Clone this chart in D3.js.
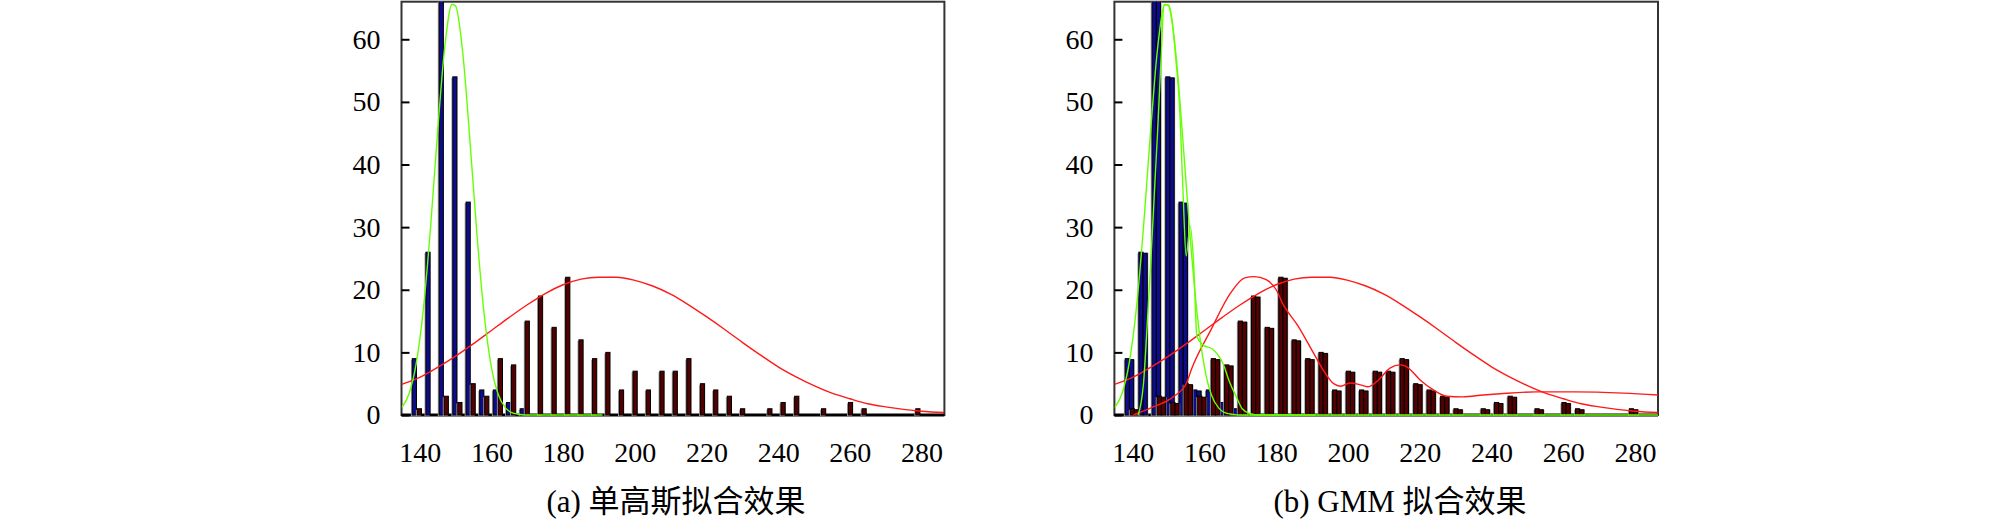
<!DOCTYPE html>
<html>
<head>
<meta charset="utf-8">
<script src="https://d3js.org/d3.v7.min.js"></script>
<style>
  body { margin: 0; background: #fff; }
  svg { display: block; }
  .tick line { stroke: #000; stroke-width: 2; }
  .caption { font-family: "Liberation Serif", "Noto Sans CJK SC", serif; font-size: 31px; fill: #000; }
</style>
</head>
<body>
<div id="chart"></div>
<script>
// histogram bins (centre of each bin)
const binCenters = [139.2, 143.0, 146.7, 150.5, 154.2, 158.0, 161.8, 165.5, 169.3, 173.0,
  176.8, 180.6, 184.3, 188.1, 191.8, 195.6, 199.4, 203.1, 206.9, 210.6,
  214.4, 218.2, 221.9, 225.7, 229.4, 233.2, 237.0, 240.7, 244.5, 248.2,
  252.0, 255.8, 259.5, 263.3, 267.0, 270.8, 274.6, 278.3];
// blue class counts (3rd bin runs off the top)
const countsBlue = [9, 26, 75, 54, 34, 4, 4, 2, 1, 0, 0, 0, 0, 0, 0, 0, 0, 0, 0, 0,
  0, 0, 0, 0, 0, 0, 0, 0, 0, 0, 0, 0, 0, 0, 0, 0, 0, 0];
// dark red class counts
const countsRed = [1, 0, 3, 2, 5, 3, 9, 8, 15, 19, 14, 22, 12, 9, 10, 4, 7, 4, 7, 7,
  9, 5, 4, 3, 1, 0, 1, 2, 3, 0, 1, 0, 2, 1, 0, 0, 0, 1];

const xTicks = [140, 160, 180, 200, 220, 240, 260, 280];
const yTicks = [0, 10, 20, 30, 40, 50, 60];

// single gaussian, blue class (green curve)
const greenSingleX = [135, 137, 139, 141, 143, 145, 147, 149, 150, 152, 154, 156, 158, 160, 162, 164, 166, 168, 170, 191];
const greenSingleY = [1.2, 3.4, 8.2, 16.9, 29.9, 45.4, 58.9, 65.6, 65.3, 57.8, 43.8, 28.5, 15.9, 7.6, 3.1, 1.1, 0.3, 0.1, 0, 0];
// single gaussian, red class
const redSingleX = [134.9, 140, 145, 150, 155, 160, 165, 170, 175, 180, 185, 190, 195, 200, 205, 210, 215,
  220, 225, 230, 235, 240, 245, 250, 255, 260, 265, 270, 275, 280, 286.4];
const redSingleY = [4.9, 6.0, 7.6, 9.4, 11.4, 13.5, 15.6, 17.6, 19.4, 20.8, 21.7, 22.0, 22.0, 21.5, 20.6, 19.3, 17.6,
  15.7, 13.7, 11.6, 9.6, 7.7, 6.1, 4.7, 3.5, 2.6, 1.8, 1.3, 0.9, 0.6, 0.4];
// GMM fit, blue class
const greenGmmX = [141.5, 143, 144, 145, 146, 147, 148, 148.7, 150, 151, 152, 153, 154, 154.9, 156, 157,
  157.9, 159.6, 162.3, 165.1, 167.1, 168.9, 170.5, 172.8, 175, 286.4];
const greenGmmY = [0, 5, 14, 24, 35, 46, 58, 65.5, 65.5, 63, 57, 50, 36, 25.4, 30.2, 24,
  12.5, 11.2, 10.5, 8.3, 5.1, 2.9, 1, 0.2, 0, 0];
// GMM fit, red class
const redGmmX = [140.2, 145.7, 151.3, 155, 156.3, 161.8, 167.3, 171.2, 173.9, 177.2, 180, 181.7, 186.1, 190.5,
  193.5, 196, 198, 200.5, 203, 205.5, 208.5, 211.7, 214.5, 216.4, 220.1, 223.8, 227.5, 232, 237.7,
  242.4, 252.4, 263.5, 276.8, 286.4];
const redGmmY = [0, 1.3, 2.9, 5.1, 7.2, 13.6, 19.5, 21.9, 22.1, 21.6, 20, 17.9, 14.2, 9.8,
  6.8, 5, 4.6, 5.1, 4.9, 4.5, 5.6, 7.5, 8.0, 7.7, 5.6, 4.0, 3.0, 2.9, 3.2,
  3.4, 3.7, 3.7, 3.5, 3.2];

const width = 2008, height = 530;
const svg = d3.select('#chart').append('svg')
    .attr('width', width)
    .attr('height', height);

const zip = (xs, ys) => xs.map((v, i) => [v, ys[i]]);

function drawPanel(left, right, wide, curves, caption, captionX) {
    const x = d3.scaleLinear().domain([134.9, 286.4]).range([left, right]);
    const y = d3.scaleLinear().domain([0, 66]).range([415, 1.7]);
    const clipId = 'clip' + Math.round(left);

    svg.append('clipPath').attr('id', clipId)
        .append('rect')
        .attr('x', left).attr('y', y(66))
        .attr('width', right - left).attr('height', y(0) - y(66) + 2);

    // frame first, marks go on top of it
    svg.append('rect')
        .attr('x', left).attr('y', y(66))
        .attr('width', right - left).attr('height', y(0) - y(66))
        .attr('fill', 'none')
        .attr('stroke', '#333')
        .attr('stroke-width', 2);
    svg.append('line')
        .attr('x1', left).attr('x2', right)
        .attr('y1', y(0)).attr('y2', y(0))
        .attr('stroke', '#000')
        .attr('stroke-width', 3);

    const g = svg.append('g').attr('clip-path', `url(#${clipId})`);

    const series = [
        {counts: countsBlue, off: -4.6, fill: '#0c0c8c'},
        {counts: countsRed, off: 0.4, fill: '#520000'}
    ];
    const bw = 4.2;

    series.forEach(s => {
        const data = binCenters.map((c, i) => ({c: c, v: s.counts[i]})).filter(d => d.v > 0);
        const sg = g.append('g');
        // grey drop shadow
        sg.selectAll('.shadow')
            .data(data)
            .enter()
            .append('rect')
            .attr('class', 'shadow')
            .attr('x', d => x(d.c) + s.off - 1.4)
            .attr('y', d => y(d.v) + 1)
            .attr('width', wide ? bw * 2 + 2.4 : bw + 1)
            .attr('height', d => y(0) - y(d.v))
            .attr('fill', '#9a9a9a');
        sg.selectAll('.bar')
            .data(data)
            .enter()
            .append('rect')
            .attr('class', 'bar')
            .attr('x', d => x(d.c) + s.off)
            .attr('y', d => y(d.v))
            .attr('width', bw)
            .attr('height', d => y(0) - y(d.v))
            .attr('fill', s.fill)
            .attr('stroke', '#000')
            .attr('stroke-width', 1);
        if (wide) {
            sg.selectAll('.bar2')
                .data(data)
                .enter()
                .append('rect')
                .attr('class', 'bar2')
                .attr('x', d => x(d.c) + s.off + bw)
                .attr('y', d => y(d.v) + 1)
                .attr('width', bw)
                .attr('height', d => y(0) - y(d.v) - 1)
                .attr('fill', s.fill)
                .attr('stroke', '#000')
                .attr('stroke-width', 1);
        }
    });

    const line = d3.line()
        .x(d => x(d[0]))
        .y(d => y(d[1]))
        .curve(d3.curveMonotoneX);

    curves.forEach(cv => {
        g.append('path')
            .attr('d', line(zip(cv.xs, cv.ys)))
            .attr('fill', 'none')
            .attr('stroke', cv.color)
            .attr('stroke-width', 1.4);
    });

    const ya = svg.append('g')
        .attr('transform', `translate(${left},0)`)
        .call(d3.axisLeft(y).tickValues(yTicks).tickSizeInner(-8).tickSizeOuter(0).tickPadding(21));
    ya.select('.domain').remove();

    const xa = svg.append('g')
        .attr('transform', `translate(0,${y(0)})`)
        .call(d3.axisBottom(x).tickValues(xTicks).tickSize(0).tickPadding(27).tickFormat(d3.format('d')));
    xa.select('.domain').remove();

    [ya, xa].forEach(a => a
        .attr('font-family', '"Liberation Serif", "Times New Roman", serif')
        .attr('font-size', 28)
        .selectAll('text').attr('fill', '#000'));

    svg.append('text')
        .attr('class', 'caption')
        .attr('x', captionX)
        .attr('y', 512)
        .attr('text-anchor', 'middle')
        .text(caption);
}

drawPanel(401.5, 944.4, false, [
    {xs: redSingleX, ys: redSingleY, color: '#ff1a1a'},
    {xs: greenSingleX, ys: greenSingleY, color: '#66ff00'}
], '(a) 单高斯拟合效果', 676);

drawPanel(1114.4, 1658, true, [
    {xs: redSingleX, ys: redSingleY, color: '#ff1a1a'},
    {xs: redGmmX, ys: redGmmY, color: '#ff1a1a'},
    {xs: greenSingleX, ys: greenSingleY, color: '#66ff00'},
    {xs: greenGmmX, ys: greenGmmY, color: '#66ff00'}
], '(b) GMM 拟合效果', 1400);
</script>
</body>
</html>
